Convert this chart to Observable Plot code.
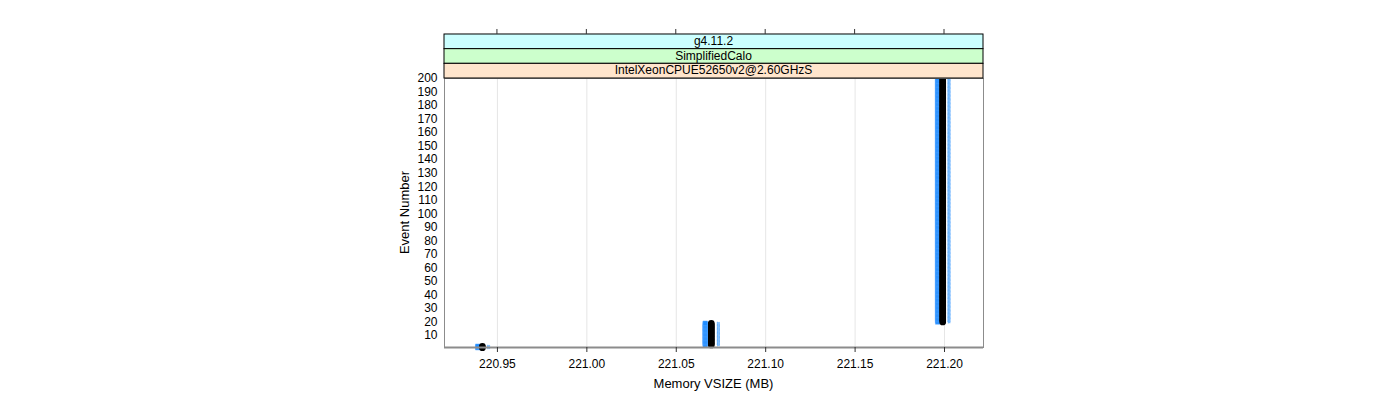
<!DOCTYPE html>
<html>
<head>
<meta charset="utf-8">
<script src="https://cdn.jsdelivr.net/npm/d3@7"></script>
<script src="https://cdn.jsdelivr.net/npm/@observablehq/plot@0.6"></script>
<style>
  html, body { margin: 0; padding: 0; background: #fff; }
  #chart svg { font-family: "Liberation Sans", Arial, sans-serif; }
</style>
</head>
<body>
<div id="chart"></div>
<script>
// Strip labels (outer to inner)
const stripLabels = ["g4.11.2", "SimplifiedCalo", "IntelXeonCPUE52650v2@2.60GHzS"];
const stripColors = ["#ccffff", "#ccffcc", "#ffe5cc"];

// Event ranges sharing the same memory value
const rangeStart = [1, 3, 20];
const rangeEnd = [2, 19, 200];
// Values per range for each plotted series (MB)
const lowVsize = [220.9390, 221.0662, 221.1962];
const midVsize = [220.9416, 221.0696, 221.1990];
const highVsize = [220.9450, 221.0735, 221.2025];

const xTicks = [220.95, 221.00, 221.05, 221.10, 221.15, 221.20];
const yTicks = [10, 20, 30, 40, 50, 60, 70, 80, 90, 100, 110, 120, 130, 140, 150, 160, 170, 180, 190, 200];

const rows = [];
rangeStart.forEach((s, i) => {
  for (let e = s; e <= rangeEnd[i]; e++) {
    rows.push({event: e, low: lowVsize[i], mid: midVsize[i], high: highVsize[i]});
  }
});

const plot = Plot.plot({
  width: 1400,
  height: 400,
  marginLeft: 444,
  marginRight: 417,
  marginTop: 78,
  marginBottom: 53,
  style: {fontFamily: "Liberation Sans, Arial, sans-serif", fontSize: "12px", background: "#fff"},
  x: {domain: [220.9204, 221.2218], ticks: xTicks, tickFormat: d3.format(".2f"), label: null},
  y: {domain: [1.1, 200], ticks: yTicks, label: null},
  marks: [
    Plot.gridX(xTicks, {stroke: "#e6e6e6", strokeOpacity: 1}),
    Plot.dot(rows, {x: "low", y: "event", symbol: "square", r: 2.6, fill: "#1f8cff", stroke: "#5aa9ff", strokeWidth: 0.5}),
    Plot.dot(rows, {x: "high", y: "event", symbol: "square", r: 1.3, fill: "#8cc6ff", stroke: "#3d9bff", strokeWidth: 0.5, strokeDasharray: "1,1"}),
    Plot.dot(rows, {x: "mid", y: "event", r: 2.6, fill: "#000", stroke: "#000"}),
    Plot.frame({stroke: "#8c8c8c"}),
    Plot.ruleY([1.1], {stroke: "#8c8c8c", strokeWidth: 2}),
    Plot.axisX({ticks: xTicks, tickFormat: d3.format(".2f"), tickSize: 5, tickPadding: 7, stroke: "#333", fontSize: 12, fill: "#000", label: null}),
    Plot.axisY({ticks: yTicks, tickSize: 0, tickPadding: 7, fontSize: 12, fill: "#000", label: null})
  ]
});

const svg = d3.select(plot);
const xs = plot.scale("x");
const [x0, x1] = [444, 983];
const stripH = 14.67;
const top0 = 78 - 3 * stripH;

// strips
stripLabels.forEach((lab, i) => {
  const y = top0 + i * stripH;
  svg.append("rect").attr("x", x0).attr("y", y).attr("width", x1 - x0).attr("height", stripH)
    .attr("fill", stripColors[i]).attr("stroke", "#000").attr("stroke-width", 1);
  svg.append("text").attr("x", (x0 + x1) / 2).attr("y", y + stripH / 2 + 0.5)
    .attr("text-anchor", "middle").attr("dominant-baseline", "middle")
    .attr("font-size", 12).attr("fill", "#000").text(lab);
});
// top ticks
xTicks.forEach(t => {
  const x = xs.apply(t);
  svg.append("line").attr("x1", x).attr("x2", x).attr("y1", top0 - 5).attr("y2", top0)
    .attr("stroke", "#333");
});
// axis titles
svg.append("text").attr("x", (x0 + x1) / 2).attr("y", 388).attr("text-anchor", "middle")
  .attr("font-size", 13).attr("fill", "#000").text("Memory VSIZE (MB)");
svg.append("text").attr("transform", `translate(409,${(78 + 347) / 2}) rotate(-90)`)
  .attr("text-anchor", "middle").attr("font-size", 13).attr("fill", "#000").text("Event Number");

document.getElementById("chart").appendChild(plot);
</script>
</body>
</html>
